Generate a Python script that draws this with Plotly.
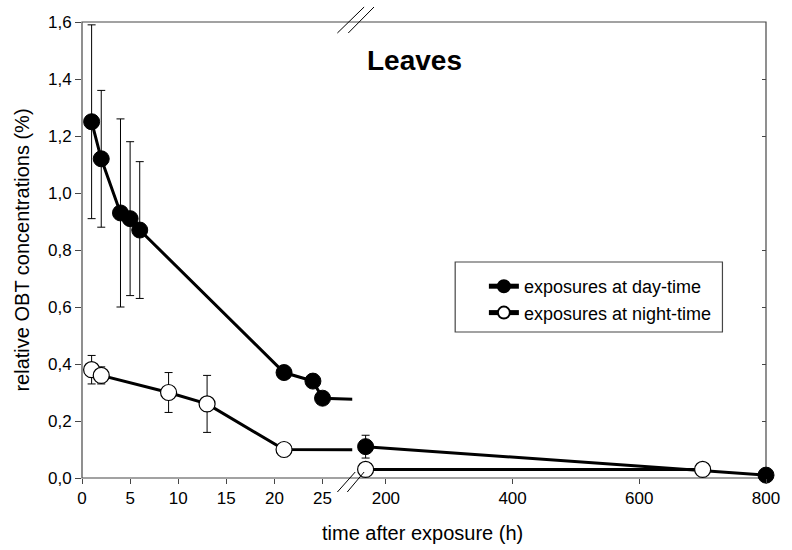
import plotly.graph_objects as go
from plotly.subplots import make_subplots

# ---- data ----
day_x = [1, 2, 4, 5, 6, 21, 24, 25, 168, 800]
day_y = [1.25, 1.12, 0.93, 0.91, 0.87, 0.37, 0.34, 0.28, 0.11, 0.01]
day_err = [0.34, 0.24, 0.33, 0.27, 0.24, None, None, None, 0.04, None]

night_x = [1, 2, 9, 13, 21, 168, 700]
night_y = [0.38, 0.36, 0.30, 0.26, 0.10, 0.03, 0.03]
night_err = [0.05, 0.03, 0.07, 0.10, None, None, None]

y_ticks = [0, 0.2, 0.4, 0.6, 0.8, 1.0, 1.2, 1.4, 1.6]
y_ticklabels = ["0,0", "0,2", "0,4", "0,6", "0,8", "1,0", "1,2", "1,4", "1,6"]
right_y_ticks = [0.2, 0.4, 0.6, 0.8, 1.2, 1.4]
x_left_ticks = [0, 5, 10, 15, 20, 25]
x_right_ticks = [200, 400, 600, 800]

BREAK = 100  # points beyond this go to the right-hand panel

FONT = "Liberation Sans, Arial, sans-serif"
W, H = 792, 550
ML, MR, MT, MB = 82, 19, 22, 72
PW, PH = W - ML - MR, H - MT - MB


def px(x):
    return (x - ML) / PW


def py(y):
    return (H - MB - y) / PH


fig = make_subplots(rows=1, cols=2, shared_yaxes=True, horizontal_spacing=0.0,
                    column_widths=[0.5, 0.5])


def err(vals):
    return [v if v is not None else float("nan") for v in vals]


line_style = dict(color="black", width=3)
eb = dict(type="data", symmetric=True, color="black", thickness=1, width=4)

# left panel: all points (lines clipped at the break)
fig.add_trace(go.Scatter(
    x=day_x, y=day_y, mode="lines+markers", name="exposures at day-time",
    line=line_style,
    marker=dict(size=16, color="black", line=dict(color="black", width=1)),
    error_y=dict(array=err(day_err), **eb), legendrank=1,
), row=1, col=1)
fig.add_trace(go.Scatter(
    x=night_x, y=night_y, mode="lines+markers", name="exposures at night-time",
    line=line_style,
    marker=dict(size=16, color="white", line=dict(color="black", width=1.2)),
    error_y=dict(array=err(night_err), **eb), legendrank=2,
), row=1, col=1)

# right panel: points after the break
dr = [(x, y, e) for x, y, e in zip(day_x, day_y, day_err) if x > BREAK]
nr = [(x, y, e) for x, y, e in zip(night_x, night_y, night_err) if x > BREAK]
fig.add_trace(go.Scatter(
    x=[d[0] for d in dr], y=[d[1] for d in dr], mode="lines+markers",
    showlegend=False, line=line_style, cliponaxis=False,
    marker=dict(size=16, color="black", line=dict(color="black", width=1)),
    error_y=dict(array=err([d[2] for d in dr]), **eb),
), row=1, col=2)
fig.add_trace(go.Scatter(
    x=[d[0] for d in nr], y=[d[1] for d in nr], mode="lines+markers",
    showlegend=False, line=line_style, cliponaxis=False,
    marker=dict(size=16, color="white", line=dict(color="black", width=1.2)),
    error_y=dict(array=err([d[2] for d in nr]), **eb),
), row=1, col=2)

left_end = px(355)
right_start = px(362)
axcol = "rgb(70,70,70)"
tickfont = dict(family=FONT, size=17, color="black")

fig.update_xaxes(domain=[0, left_end], range=[0, (355 - ML) / 9.72],
                 tickvals=x_left_ticks, ticktext=[str(v) for v in x_left_ticks],
                 ticks="outside", ticklen=5, tickcolor=axcol, tickfont=tickfont,
                 showgrid=False, zeroline=False, showline=False,
                 row=1, col=1)
fig.update_xaxes(domain=[right_start, 1], range=[800 - (773 - 362) / 0.64, 800],
                 tickvals=x_right_ticks, ticktext=[str(v) for v in x_right_ticks],
                 ticks="outside", ticklen=5, tickcolor=axcol, tickfont=tickfont,
                 showgrid=False, zeroline=False, showline=False,
                 row=1, col=2)
fig.update_yaxes(range=[0, 1.6], tickvals=y_ticks, ticktext=y_ticklabels,
                 ticks="outside", ticklen=6, tickcolor=axcol, tickfont=tickfont,
                 showgrid=False, zeroline=False, showline=False,
                 title=dict(text="relative OBT concentrations (%)",
                            font=dict(family=FONT, size=20, color="black"),
                            standoff=12),
                 row=1, col=1)
fig.update_yaxes(range=[0, 1.6], side="right", tickvals=right_y_ticks,
                 ticks="inside", ticklen=4, tickcolor=axcol, showticklabels=False,
                 showgrid=False, zeroline=False, showline=False,
                 row=1, col=2)

shapes = [
    # frame
    dict(type="rect", xref="paper", yref="paper", x0=0, x1=1, y0=0, y1=1,
         line=dict(color=axcol, width=1.2), layer="below"),
    # legend box
    dict(type="rect", xref="paper", yref="paper", x0=px(459), x1=px(729),
         y0=py(332), y1=py(262), line=dict(color=axcol, width=1.2),
         fillcolor="white", layer="below"),
    # break marks top
    dict(type="line", xref="paper", yref="paper", x0=px(340), y0=py(33), x1=px(367), y1=py(7),
         line=dict(color="black", width=1)),
    dict(type="line", xref="paper", yref="paper", x0=px(351), y0=py(33), x1=px(377), y1=py(7),
         line=dict(color="black", width=1)),
    # break marks bottom
    dict(type="line", xref="paper", yref="paper", x0=px(340), y0=py(492), x1=px(358), y1=py(472),
         line=dict(color="black", width=1)),
    dict(type="line", xref="paper", yref="paper", x0=px(350), y0=py(492), x1=px(367), y1=py(472),
         line=dict(color="black", width=1)),
]

annotations = [
    dict(text="<b>Leaves</b>", xref="paper", yref="paper", x=px(418), y=py(61),
         xanchor="center", yanchor="middle", showarrow=False,
         font=dict(family=FONT, size=28, color="black")),
    dict(text="time after exposure (h)", xref="paper", yref="paper",
         x=px(426), y=py(533), xanchor="center", yanchor="middle", showarrow=False,
         font=dict(family=FONT, size=20, color="black")),
]

fig.update_layout(
    width=W, height=H,
    margin=dict(l=ML, r=MR, t=MT, b=MB),
    paper_bgcolor="white", plot_bgcolor="white",
    font=dict(family=FONT, color="black"),
    showlegend=True,
    legend=dict(x=px(488), y=py(268), xanchor="left", yanchor="top",
                bgcolor="rgba(0,0,0,0)", borderwidth=0,
                font=dict(family=FONT, size=18, color="black"),
                tracegroupgap=0, itemsizing="constant"),
    shapes=shapes, annotations=annotations,
)

fig.write_html("out.html")
